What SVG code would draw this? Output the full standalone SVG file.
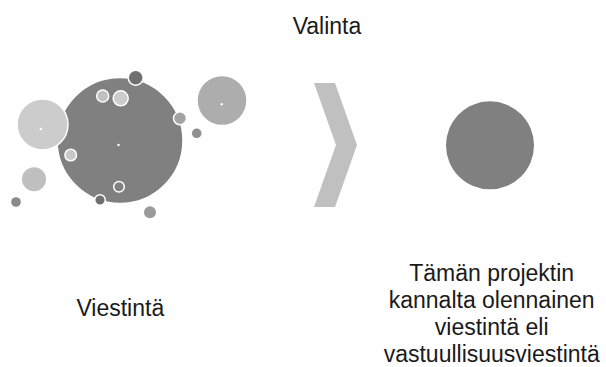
<svg xmlns="http://www.w3.org/2000/svg" width="606" height="367" viewBox="0 0 606 367">
<style>
.t{font-family:"Liberation Sans",Arial,sans-serif;font-size:23px;fill:#1a1a1a;text-anchor:middle}
.w{stroke:#ffffff;stroke-width:1.5}
.dot{fill:#ffffff}
</style>
<rect width="606" height="367" fill="#ffffff"/>
<g id="viestinta-cluster">
  <circle class="w" cx="120" cy="140.5" r="63" fill="#808080"/>
  <circle class="dot" cx="118.5" cy="145" r="1.2"/>
  <circle class="w" cx="42.5" cy="124.5" r="25.5" fill="#cccccc"/>
  <circle class="dot" cx="40.8" cy="129" r="1.2"/>
  <circle class="w" cx="222" cy="100.5" r="25" fill="#adadad"/>
  <circle class="dot" cx="221.7" cy="104.3" r="1.2"/>
  <circle class="w" cx="135.7" cy="77.7" r="7.5" fill="#707070"/>
  <circle class="w" cx="102.7" cy="96" r="6" fill="#c0c0c0"/>
  <circle class="w" cx="120.7" cy="98.3" r="7.5" fill="#cccccc"/>
  <circle class="w" cx="180" cy="118.3" r="6.5" fill="#a3a3a3"/>
  <circle cx="196.7" cy="133.3" r="4.8" fill="#8f8f8f"/>
  <circle class="w" cx="70.7" cy="155" r="5.8" fill="#c8c8c8"/>
  <circle cx="34" cy="179.3" r="12" fill="#bfbfbf"/>
  <circle cx="16" cy="202" r="4.8" fill="#8a8a8a"/>
  <circle class="w" cx="119" cy="186.7" r="5.3" fill="#808080"/>
  <circle class="w" cx="100" cy="200" r="5.3" fill="#707070"/>
  <circle cx="150" cy="212.3" r="6" fill="#9a9a9a"/>
</g>
<g id="valinta-arrow">
  <polygon points="314,83 335,83 357,145 335,207 314,207 336,145" fill="#c0c0c0"/>
</g>
<g id="result-circle">
  <circle cx="490" cy="145.3" r="44" fill="#808080"/>
</g>
<g id="labels">
  <text class="t" x="327" y="34">Valinta</text>
  <text class="t" x="120.3" y="316">Viestintä</text>
  <text class="t" x="491.7" y="281">Tämän projektin</text>
  <text class="t" x="491.7" y="308">kannalta olennainen</text>
  <text class="t" x="491.7" y="335">viestintä eli</text>
  <text class="t" x="491.7" y="362">vastuullisuusviestintä</text>
</g>
</svg>
